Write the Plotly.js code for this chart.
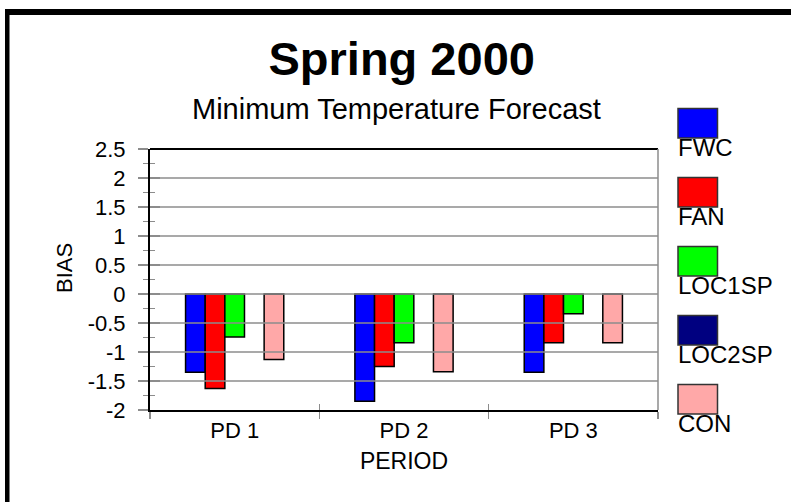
<!DOCTYPE html>
<html><head><meta charset="utf-8">
<script src="https://cdn.plot.ly/plotly-3.0.1.min.js"></script>
<style>
html,body{margin:0;padding:0;background:#fff;overflow:hidden;width:791px;height:502px;}
#chart{position:absolute;left:0;top:0;width:791px;height:502px;}
</style></head><body>
<div id="chart"></div>
<script>
// ---- data ----
const periods = ['PD 1', 'PD 2', 'PD 3'];
const seriesNames = ['FWC', 'FAN', 'LOC1SP', 'LOC2SP', 'CON'];
const seriesColors = ['#0000ff', '#ff0000', '#00ff00', '#000080', '#ffa8a8'];
const fwc    = [-1.35, -1.85, -1.35];
const fan    = [-1.63, -1.25, -0.84];
const loc1sp = [-0.74, -0.84, -0.34];
const loc2sp = [null, null, null];
const con    = [-1.13, -1.34, -0.84];
const yTickVals = [-2, -1.5, -1, -0.5, 0, 0.5, 1, 1.5, 2, 2.5];
const yTickText = ['-2', '-1.5', '-1', '-0.5', '0', '0.5', '1', '1.5', '2', '2.5'];
const chartTitle = 'Spring 2000';
const chartSubtitle = 'Minimum Temperature Forecast';
const xTitle = 'PERIOD';
const yTitle = 'BIAS';

// ---- layout helpers ----
const FONT = 'Liberation Sans, Arial, Helvetica, sans-serif';
const W = 791, H = 502;
const M = {l: 150, r: 133, t: 149, b: 92};
const PW = W - M.l - M.r, PH = H - M.t - M.b;
const px2x = p => (p - M.l) / PW;
const px2y = p => (H - M.b - p) / PH;

const seriesValues = [fwc, fan, loc1sp, loc2sp, con];
const traces = seriesNames.map((name, i) => ({
  type: 'bar', name: name, x: periods, y: seriesValues[i],
  marker: {color: seriesColors[i], line: {color: '#000', width: 1.5}},
  showlegend: false
}));
// empty helper trace so the overlay axes (inner half of the crossing ticks) are drawn
traces.push({type: 'scatter', x: [], y: [], xaxis: 'x2', yaxis: 'y2', showlegend: false, hoverinfo: 'skip'});

const shapes = [];
// outer page frame (black bars on the left and top edges)
shapes.push({type: 'rect', xref: 'paper', yref: 'paper', x0: px2x(5), x1: px2x(9.5), y0: px2y(600), y1: px2y(9),
  fillcolor: '#000', line: {width: 0}, layer: 'below'});
shapes.push({type: 'rect', xref: 'paper', yref: 'paper', x0: px2x(5), x1: px2x(900), y0: px2y(15), y1: px2y(9),
  fillcolor: '#000', line: {width: 0}, layer: 'below'});
// gridlines drawn above the bars, as in the reference
yTickVals.filter(v => v > -2 && v < 2.5).forEach(v => {
  shapes.push({type: 'line', xref: 'paper', yref: 'y', x0: 0, x1: 1, y0: v, y1: v,
    line: {color: '#8c8c8c', width: 1.5}, layer: 'above'});
});
shapes.push({type: 'line', xref: 'paper', yref: 'paper', x0: 0, x1: 1, y0: 1, y1: 1, line: {color: '#000', width: 2}, layer: 'above'});
shapes.push({type: 'line', xref: 'paper', yref: 'paper', x0: 1, x1: 1, y0: 0, y1: 1, line: {color: '#8c8c8c', width: 1.5}, layer: 'above'});

const annotations = [{
  text: chartSubtitle, xref: 'paper', yref: 'paper', x: px2x(396), y: px2y(109),
  xanchor: 'center', yanchor: 'middle', showarrow: false,
  font: {family: FONT, size: 29, color: '#000'}
}, {
  text: yTitle, xref: 'paper', yref: 'paper', x: px2x(64), y: px2y(268),
  xanchor: 'center', yanchor: 'middle', showarrow: false, textangle: -90,
  font: {family: FONT, size: 22, color: '#000'}
}];
// legend: large swatches with labels underneath
seriesNames.forEach((name, i) => {
  const top = 108.5 + i * 69;
  shapes.push({type: 'rect', xref: 'paper', yref: 'paper',
    x0: px2x(678), x1: px2x(717.5), y0: px2y(top), y1: px2y(top + 29.5),
    fillcolor: seriesColors[i], line: {color: '#333', width: 1.5}, layer: 'above'});
  annotations.push({text: name, xref: 'paper', yref: 'paper', x: px2x(676), y: px2y(top + 39),
    xanchor: 'left', yanchor: 'middle', showarrow: false,
    font: {family: FONT, size: 24, color: '#000'}});
});

const layout = {
  width: W, height: H, margin: M,
  paper_bgcolor: '#fff', plot_bgcolor: '#fff',
  font: {family: FONT, color: '#000', size: 21},
  title: {text: '<b>' + chartTitle + '</b>', font: {family: FONT, size: 47, color: '#000'},
    xref: 'container', yref: 'container', x: 401.7 / W, xanchor: 'center',
    y: 1 - 58.4 / H, yanchor: 'middle'},
  barmode: 'group', bargap: 0.42, bargroupgap: 0,
  xaxis: {type: 'category', tickson: 'boundaries', ticks: 'outside', ticklen: 7, tickwidth: 1.5,
    tickcolor: '#8c8c8c', showline: true, linecolor: '#000', linewidth: 2, showgrid: false,
    zeroline: false, tickfont: {family: FONT, size: 22, color: '#000'},
    title: {text: xTitle, font: {family: FONT, size: 23, color: '#000'}, standoff: 10}},
  yaxis: {range: [-2, 2.5], tickvals: yTickVals, ticktext: yTickText, ticks: 'outside',
    ticklen: 10, tickwidth: 1.5, tickcolor: '#8c8c8c', showline: true, linecolor: '#000',
    linewidth: 2, showgrid: false, zeroline: false, ticklabelstandoff: 8,
    minor: {dtick: 0.25, ticks: 'outside', ticklen: 5, tickwidth: 1.5, tickcolor: '#8c8c8c', showgrid: false},
    tickfont: {family: FONT, size: 22, color: '#000'}},
  xaxis2: {overlaying: 'x', anchor: 'y', type: 'linear', range: [-0.5, 2.5],
    tickvals: [-0.5, 0.5, 1.5, 2.5], ticks: 'inside', ticklen: 6, tickwidth: 1.5, tickcolor: '#8c8c8c',
    showticklabels: false, showgrid: false, zeroline: false, showline: false, side: 'bottom'},
  yaxis2: {overlaying: 'y', anchor: 'x', range: [-2, 2.5], tickvals: yTickVals, ticks: 'inside',
    ticklen: 10, tickwidth: 1.5, tickcolor: '#8c8c8c', showticklabels: false, showgrid: false,
    zeroline: false, showline: false, side: 'left',
    minor: {dtick: 0.25, ticks: 'inside', ticklen: 5, tickwidth: 1.5, tickcolor: '#8c8c8c', showgrid: false}},
  shapes: shapes,
  annotations: annotations,
  showlegend: false
};

Plotly.newPlot('chart', traces, layout, {displayModeBar: false, staticPlot: true});
</script>
</body></html>
